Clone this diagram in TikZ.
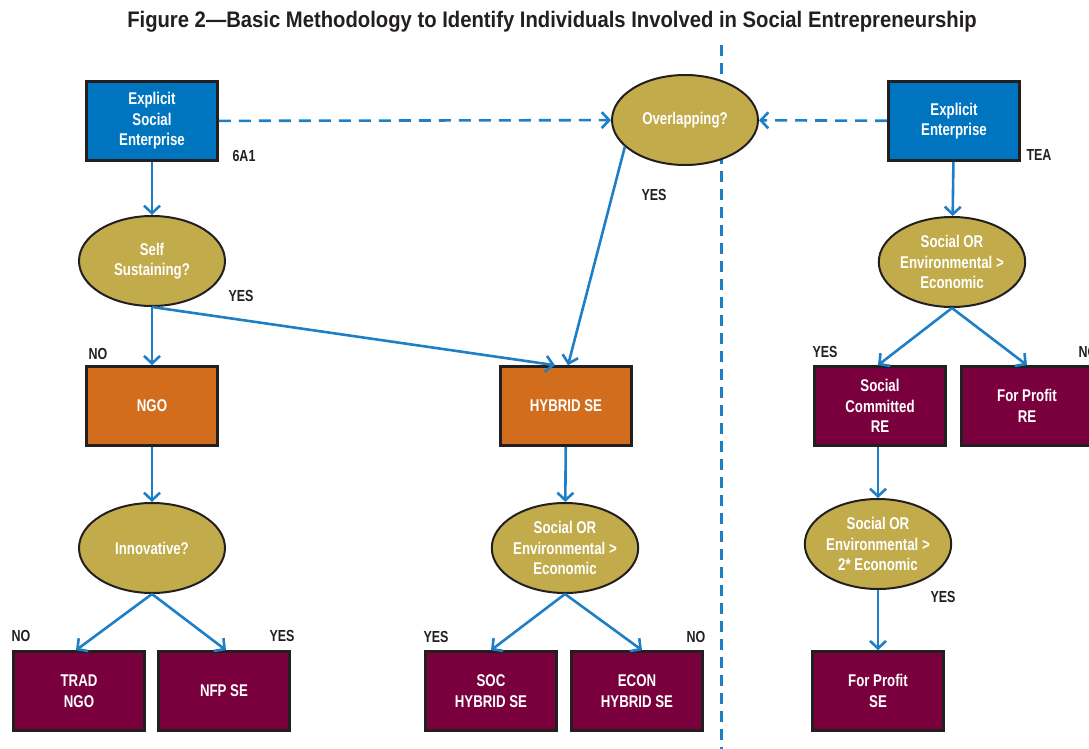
\documentclass[tikz,border=0pt]{standalone}
\usepackage{fontspec}
\setmainfont{Liberation Sans}[FakeStretch=0.78]
\newfontfamily\headfont{Liberation Sans}[FakeStretch=0.9]
\usetikzlibrary{arrows.meta,shapes.geometric}
\definecolor{ink}{HTML}{231F20}
\definecolor{boxblue}{HTML}{0075BF}
\definecolor{flowblue}{HTML}{1E7FC6}
\definecolor{gold}{HTML}{C2AB4A}
\definecolor{rust}{HTML}{D16D1D}
\definecolor{wine}{HTML}{7A003D}
\begin{document}
\begin{tikzpicture}[x=1pt,y=-1pt,
    every node/.style={font=\bfseries\fontsize{17}{20.5}\selectfont,align=center,inner sep=0pt},
    box/.style={draw=ink,line width=2.6pt,text=white,minimum width=131pt,minimum height=79pt},
    bluebox/.style={box,fill=boxblue},
    rustbox/.style={box,fill=rust},
    winebox/.style={box,fill=wine},
    query/.style={ellipse,draw=ink,line width=2pt,fill=gold,text=white,minimum width=146pt,minimum height=90pt},
    tag/.style={text=ink,font=\bfseries\fontsize{16}{18}\selectfont},
    flow/.style={draw=flowblue,line width=2.6pt,-{Straight Barb[length=7.5pt,width=16pt]}},
    link/.style={flow,dash pattern=on 12pt off 8pt}]
      \useasboundingbox (0,0) rectangle (1089,749);
      \node[text=ink,font=\headfont\bfseries\fontsize{22.5}{26}\selectfont] (title) at (552,22)
        {Figure 2—Basic Methodology to Identify Individuals Involved in Social Entrepreneurship};
      % divider between the two samples
      \draw[flowblue,line width=3pt,dash pattern=on 11pt off 7pt] (721,45) coordinate (top) -- (721,749) coordinate (bottom);
      \draw
        (152,121) node[bluebox] (ese){Explicit\\Social\\Enterprise}
        (685,120) node[query] (over){Overlapping?}
        (954,121) node[bluebox] (ee){Explicit\\Enterprise}
        (152,261) node[query] (self){Self\\Sustaining?}
        (952,262) node[query] (envr){Social OR\\Environmental >\\Economic}
        (152,406) node[rustbox] (ngo){NGO}
        (566,406) node[rustbox] (hyb){HYBRID SE}
        (880,406) node[winebox] (scre){Social\\Committed\\RE}
        (1027,406) node[winebox] (fpre){For Profit\\RE}
        (152,548) node[query] (innov){Innovative?}
        (565,548) node[query] (envh){Social OR\\Environmental >\\Economic}
        (878,544) node[query] (envs){Social OR\\Environmental >\\2* Economic}
        (79,691) node[winebox] (trad){TRAD\\NGO}
        (224,691) node[winebox] (nfp){NFP SE}
        (491,691) node[winebox] (soc){SOC\\HYBRID SE}
        (637,691) node[winebox] (econ){ECON\\HYBRID SE}
        (878,691) node[winebox] (fpse){For Profit\\SE};
      \draw
        (244,156) node[tag] (t6a){6A1}
        (1039,155) node[tag] (ttea){TEA}
        (654,195) node[tag] (yover){YES}
        (241,296) node[tag] (yself){YES}
        (98,354) node[tag] (nself){NO}
        (825,352) node[tag] (yenvr){YES}
        (1088,352) node[tag] (nenvr){NO}
        (21,636) node[tag] (ninnov){NO}
        (282,636) node[tag] (yinnov){YES}
        (436,637) node[tag] (yenvh){YES}
        (696,637) node[tag] (nenvh){NO}
        (943,597) node[tag] (yenvs){YES};
      \begin{scope}[link]
        \draw (ese) to (over);
        \draw (ee) to (over);
      \end{scope}
      \begin{scope}[flow]
        \draw (ese) to (self);
        \draw (ee) to (envr);
        \draw (self) to (ngo);
        \draw (self.south) to ([xshift=-11pt]hyb.north);
        \draw (over.204) to ([xshift=2pt]hyb.north);
        \draw (ngo) to (innov);
        \draw (hyb) to (envh);
        \draw (innov.south) to ([xshift=-3pt]trad.north);
        \draw (innov.south) to ([xshift=2pt]nfp.north);
        \draw (envh.south) to (soc.north);
        \draw (envh.south) to ([xshift=5pt]econ.north);
        \draw (envr.south) to ([xshift=-2pt]scre.north);
        \draw (envr.south) to (fpre.north);
        \draw (scre.south -| envs) to (envs);
        \draw (envs) to (fpse);
      \end{scope}
    \end{tikzpicture}
\end{document}
